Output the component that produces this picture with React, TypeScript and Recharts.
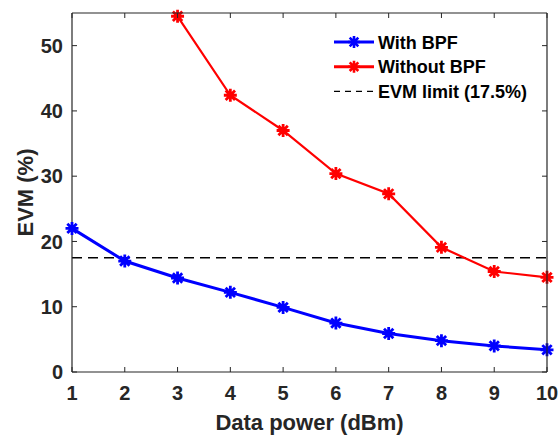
import { Label, Line, LineChart, ReferenceLine, XAxis, YAxis } from 'recharts'

const powerDbm = [1, 2, 3, 4, 5, 6, 7, 8, 9, 10]
const evmWithBpf = [22.0, 17.0, 14.4, 12.2, 9.9, 7.5, 5.9, 4.8, 4.0, 3.4]
const evmWithoutBpf = [null, null, 54.5, 42.4, 37.0, 30.4, 27.3, 19.1, 15.4, 14.5]
const EVM_LIMIT = 17.5
const xTicks = [1, 2, 3, 4, 5, 6, 7, 8, 9, 10]
const yTicks = [0, 10, 20, 30, 40, 50]
const X_DOMAIN = [1, 10]
const Y_DOMAIN = [0, 55]
const seriesNames = ['With BPF', 'Without BPF', 'EVM limit (17.5%)']

const FONT = '"Liberation Sans", Arial, Helvetica, sans-serif'
const AXIS = '#262626'
const BLUE = '#0000ff'
const RED = '#ff0000'

const W = 559
const H = 435
const MARGIN = { top: 13, right: 12, bottom: 0, left: 12 }
const Y_AXIS_W = 60
const X_AXIS_H = 63
// plot box, derived from the chart margins and axis sizes
const PLOT = {
  left: MARGIN.left + Y_AXIS_W,
  right: W - MARGIN.right,
  top: MARGIN.top,
  bottom: H - MARGIN.bottom - X_AXIS_H,
}

const rows = powerDbm.map((x, i) => ({ x, withBpf: evmWithBpf[i], withoutBpf: evmWithoutBpf[i] }))

function starPath(cx: number, cy: number, r: number) {
  const d = r * 0.72
  return `M${cx - r},${cy}H${cx + r}M${cx},${cy - r}V${cy + r}M${cx - d},${cy - d}L${cx + d},${cy + d}M${cx - d},${cy + d}L${cx + d},${cy - d}`
}

function starDot(color: string) {
  return (p: any) => {
    if (p.cx == null || p.cy == null || p.value == null) return <g key={p.index} />
    return <path key={p.index} d={starPath(p.cx, p.cy, 6.5)} stroke={color} strokeWidth={2.8} fill="none" />
  }
}

// top and right edges of the axes box, with inward ticks (MATLAB style)
function BoxFrame() {
  const sx = (v: number) => PLOT.left + ((v - X_DOMAIN[0]) / (X_DOMAIN[1] - X_DOMAIN[0])) * (PLOT.right - PLOT.left)
  const sy = (v: number) => PLOT.bottom - ((v - Y_DOMAIN[0]) / (Y_DOMAIN[1] - Y_DOMAIN[0])) * (PLOT.bottom - PLOT.top)
  return (
    <g stroke={AXIS} fill="none">
      <line x1={PLOT.left} x2={PLOT.right} y1={PLOT.top} y2={PLOT.top} strokeWidth={1.2} />
      <line x1={PLOT.right} x2={PLOT.right} y1={PLOT.top} y2={PLOT.bottom} strokeWidth={1.2} />
      {xTicks.map((t) => (
        <line key={`x${t}`} x1={sx(t)} x2={sx(t)} y1={PLOT.top} y2={PLOT.top + 5} />
      ))}
      {yTicks.map((t) => (
        <line key={`y${t}`} x1={PLOT.right} x2={PLOT.right - 5} y1={sy(t)} y2={sy(t)} />
      ))}
    </g>
  )
}

function ChartLegend() {
  const items = [
    { color: BLUE, dash: undefined, star: true },
    { color: RED, dash: undefined, star: true },
    { color: '#000', dash: '6 5', star: false },
  ]
  return (
    <g transform="translate(328,29)">
      {items.map((it, i) => {
        const y = 13 + i * 24.7
        return (
          <g key={i}>
            <line x1={6} x2={46} y1={y} y2={y} stroke={it.color} strokeWidth={it.star ? 3 : 1.3} strokeDasharray={it.dash} />
            {it.star && <path d={starPath(26, y, 6)} stroke={it.color} strokeWidth={2.6} fill="none" />}
            <text x={50} y={y + 6.5} fontFamily={FONT} fontWeight="bold" fontSize={18} fill="#000">
              {seriesNames[i]}
            </text>
          </g>
        )
      })}
    </g>
  )
}

export default function App() {
  const tickStyle = { fill: AXIS, fontSize: 20, fontWeight: 'bold', fontFamily: FONT }
  return (
    <div style={{ position: 'absolute', left: 0, top: 0, width: W, height: H, background: '#fff' }}>
      <LineChart width={W} height={H} data={rows} margin={MARGIN}>
        <XAxis
          dataKey="x"
          type="number"
          domain={X_DOMAIN}
          ticks={xTicks}
          height={X_AXIS_H}
          tickSize={-5}
          tickMargin={19}
          stroke={AXIS}
          tick={tickStyle}
          axisLine={{ stroke: AXIS, strokeWidth: 1.2 }}
          tickLine={{ stroke: AXIS }}
        >
          <Label
            value="Data power (dBm)"
            position="insideBottom"
            offset={5}
            style={{ fill: AXIS, fontSize: 22, fontWeight: 'bold', fontFamily: FONT }}
          />
        </XAxis>
        <YAxis
          type="number"
          domain={Y_DOMAIN}
          ticks={yTicks}
          width={Y_AXIS_W}
          tickSize={-5}
          tickMargin={14}
          tick={tickStyle}
          axisLine={{ stroke: AXIS, strokeWidth: 1.2 }}
          tickLine={{ stroke: AXIS }}
        >
          <Label
            content={() => (
              <text
                x={33}
                y={192.5}
                transform="rotate(-90 33 192.5)"
                textAnchor="middle"
                fill={AXIS}
                fontSize={22}
                fontWeight="bold"
                fontFamily={FONT}
              >
                EVM (%)
              </text>
            )}
          />
        </YAxis>
        <ReferenceLine y={EVM_LIMIT} stroke="#000" strokeWidth={1.3} strokeDasharray="10 6" />
        <Line
          dataKey="withBpf"
          stroke={BLUE}
          strokeWidth={3}
          dot={starDot(BLUE)}
          activeDot={false}
          isAnimationActive={false}
        />
        <Line
          dataKey="withoutBpf"
          stroke={RED}
          strokeWidth={2.2}
          dot={starDot(RED)}
          activeDot={false}
          connectNulls={false}
          isAnimationActive={false}
        />
      </LineChart>
      <svg width={W} height={H} style={{ position: 'absolute', left: 0, top: 0, pointerEvents: 'none' }}>
        <BoxFrame />
        <ChartLegend />
      </svg>
    </div>
  )
}
